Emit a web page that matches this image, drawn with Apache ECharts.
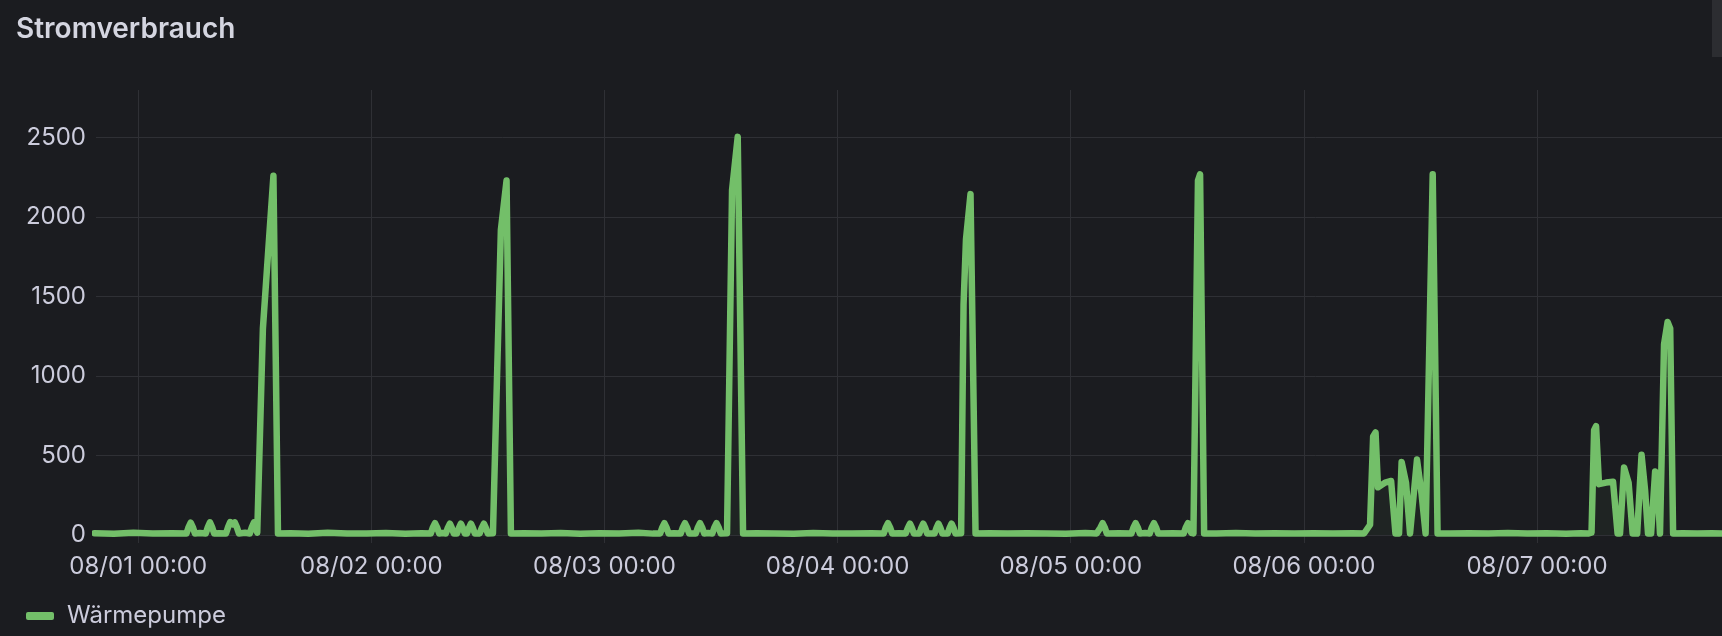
<!DOCTYPE html>
<html>
<head>
<meta charset="utf-8">
<script src="https://cdn.jsdelivr.net/npm/echarts@6/dist/echarts.min.js"></script>
<style>
html,body{margin:0;padding:0;background:#1b1c20;}
#c{width:1722px;height:636px;}
</style>
</head>
<body>
<div id="c"></div>
<script>
const chartTitle = 'Stromverbrauch';
const seriesName = 'Wärmepumpe';

// Sample times (local time); each line matches the same line in `watts`
const times = [
  '2024-07-31 19:30','2024-07-31 21:30','2024-07-31 23:30','2024-08-01 01:30','2024-08-01 03:30',
  '2024-08-01 04:58','2024-08-01 05:11','2024-08-01 05:24','2024-08-01 05:37','2024-08-01 05:50',
  '2024-08-01 06:20',
  '2024-08-01 06:57','2024-08-01 07:10','2024-08-01 07:23','2024-08-01 07:36','2024-08-01 07:49',
  '2024-08-01 08:20',
  '2024-08-01 09:02','2024-08-01 09:15','2024-08-01 09:28','2024-08-01 09:42','2024-08-01 09:56','2024-08-01 10:09','2024-08-01 10:22',
  '2024-08-01 11:00',
  '2024-08-01 11:29','2024-08-01 11:42','2024-08-01 11:55','2024-08-01 12:06','2024-08-01 12:15',
  '2024-08-01 12:26','2024-08-01 12:50','2024-08-01 13:21','2024-08-01 13:55','2024-08-01 14:23',
  '2024-08-01 15:40','2024-08-01 17:30','2024-08-01 19:30','2024-08-01 21:30','2024-08-01 23:30',
  '2024-08-02 01:30','2024-08-02 03:30','2024-08-02 05:10',
  '2024-08-02 06:07','2024-08-02 06:20','2024-08-02 06:33','2024-08-02 06:46','2024-08-02 06:59',
  '2024-08-02 07:20',
  '2024-08-02 07:40','2024-08-02 07:52','2024-08-02 08:05','2024-08-02 08:17','2024-08-02 08:29',
  '2024-08-02 08:49','2024-08-02 09:01','2024-08-02 09:13','2024-08-02 09:25','2024-08-02 09:37',
  '2024-08-02 09:51','2024-08-02 10:03','2024-08-02 10:15','2024-08-02 10:27','2024-08-02 10:39',
  '2024-08-02 11:09','2024-08-02 11:22','2024-08-02 11:35','2024-08-02 11:47','2024-08-02 11:59',
  '2024-08-02 12:31','2024-08-02 13:20','2024-08-02 13:55','2024-08-02 14:22',
  '2024-08-02 15:40','2024-08-02 17:30','2024-08-02 19:30','2024-08-02 21:30','2024-08-02 23:30',
  '2024-08-03 01:30','2024-08-03 03:30','2024-08-03 05:00',
  '2024-08-03 05:44','2024-08-03 05:57','2024-08-03 06:10','2024-08-03 06:23','2024-08-03 06:36',
  '2024-08-03 07:10',
  '2024-08-03 07:51','2024-08-03 08:04','2024-08-03 08:17','2024-08-03 08:30','2024-08-03 08:43',
  '2024-08-03 09:24','2024-08-03 09:37','2024-08-03 09:50','2024-08-03 10:03','2024-08-03 10:16',
  '2024-08-03 10:40',
  '2024-08-03 11:06','2024-08-03 11:19','2024-08-03 11:32','2024-08-03 11:45','2024-08-03 11:58',
  '2024-08-03 12:37','2024-08-03 13:08','2024-08-03 13:43','2024-08-03 14:16',
  '2024-08-03 15:40','2024-08-03 17:30','2024-08-03 19:30','2024-08-03 21:30','2024-08-03 23:30',
  '2024-08-04 01:30','2024-08-04 03:30','2024-08-04 04:30',
  '2024-08-04 04:45','2024-08-04 04:58','2024-08-04 05:11','2024-08-04 05:24','2024-08-04 05:37',
  '2024-08-04 06:20',
  '2024-08-04 07:01','2024-08-04 07:14','2024-08-04 07:27','2024-08-04 07:39','2024-08-04 07:51',
  '2024-08-04 08:25','2024-08-04 08:37','2024-08-04 08:49','2024-08-04 09:01','2024-08-04 09:13',
  '2024-08-04 09:59','2024-08-04 10:11','2024-08-04 10:23','2024-08-04 10:35','2024-08-04 10:47',
  '2024-08-04 11:20','2024-08-04 11:32','2024-08-04 11:44','2024-08-04 11:56','2024-08-04 12:08',
  '2024-08-04 12:43','2024-08-04 12:58','2024-08-04 13:13','2024-08-04 13:41','2024-08-04 14:12',
  '2024-08-04 15:40','2024-08-04 17:30','2024-08-04 19:30','2024-08-04 21:30','2024-08-04 23:30',
  '2024-08-05 01:30','2024-08-05 02:40',
  '2024-08-05 02:51','2024-08-05 03:04','2024-08-05 03:17','2024-08-05 03:30','2024-08-05 03:43',
  '2024-08-05 05:00',
  '2024-08-05 06:15','2024-08-05 06:28','2024-08-05 06:41','2024-08-05 06:54','2024-08-05 07:07',
  '2024-08-05 07:40',
  '2024-08-05 08:08','2024-08-05 08:21','2024-08-05 08:34','2024-08-05 08:47','2024-08-05 09:00',
  '2024-08-05 10:30',
  '2024-08-05 11:38','2024-08-05 11:51','2024-08-05 12:04','2024-08-05 12:14','2024-08-05 12:24',
  '2024-08-05 12:38','2024-08-05 13:06','2024-08-05 13:19','2024-08-05 13:44',
  '2024-08-05 15:00','2024-08-05 17:00','2024-08-05 19:00','2024-08-05 21:00','2024-08-05 23:00',
  '2024-08-06 01:00','2024-08-06 03:00','2024-08-06 05:00',
  '2024-08-06 06:12','2024-08-06 06:49','2024-08-06 07:08','2024-08-06 07:23','2024-08-06 07:38',
  '2024-08-06 08:22','2024-08-06 08:59','2024-08-06 09:26','2024-08-06 09:48','2024-08-06 10:04',
  '2024-08-06 10:31','2024-08-06 10:56','2024-08-06 11:08','2024-08-06 11:39','2024-08-06 12:07',
  '2024-08-06 12:32','2024-08-06 12:44','2024-08-06 13:16','2024-08-06 13:46',
  '2024-08-06 15:00','2024-08-06 17:00','2024-08-06 19:00','2024-08-06 21:00','2024-08-06 23:00',
  '2024-08-07 01:00','2024-08-07 03:00','2024-08-07 04:30',
  '2024-08-07 05:16','2024-08-07 05:37','2024-08-07 05:53','2024-08-07 06:05','2024-08-07 06:23',
  '2024-08-07 07:07','2024-08-07 07:50','2024-08-07 08:18','2024-08-07 08:33','2024-08-07 08:58',
  '2024-08-07 09:26','2024-08-07 09:51','2024-08-07 10:19','2024-08-07 10:46','2024-08-07 11:08',
  '2024-08-07 11:26','2024-08-07 11:45','2024-08-07 12:10','2024-08-07 12:28','2024-08-07 12:40',
  '2024-08-07 12:50','2024-08-07 13:05','2024-08-07 13:27','2024-08-07 13:43','2024-08-07 14:01',
  '2024-08-07 15:00','2024-08-07 16:30','2024-08-07 18:00','2024-08-07 19:30'
];

// Power of the heat pump in W
const watts = [
  12,8,14,9,12,
  10,50,78,50,10,
  13,
  10,50,80,50,10,
  12,
  10,50,82,68,80,50,10,
  14,
  10,50,80,45,15,
  12,1300,1760,2260,10,
  12,8,14,10,9,
  13,8,11,
  10,48,75,48,10,
  13,
  10,45,72,45,10,
  10,45,72,45,10,
  10,45,72,45,10,
  10,45,72,45,10,
  12,1920,2230,10,
  11,9,13,8,12,
  10,14,9,
  10,48,75,48,10,
  12,
  10,48,75,48,10,
  10,48,75,48,10,
  13,
  10,48,75,48,10,
  12,2170,2505,10,
  12,10,8,13,10,
  9,12,10,
  10,48,75,48,10,
  12,
  10,45,72,45,10,
  10,45,72,45,10,
  10,45,72,45,10,
  10,45,72,45,10,
  12,1450,1860,2145,10,
  11,9,12,10,8,
  13,10,
  10,48,75,48,10,
  12,
  10,48,75,48,10,
  13,
  10,48,75,48,10,
  11,
  10,48,75,45,14,
  10,2230,2270,10,
  10,13,9,12,10,
  11,9,12,
  10,65,620,645,300,
  330,340,10,10,460,
  330,10,10,475,260,
  10,10,2270,10,
  10,12,9,13,10,
  11,8,12,
  10,15,660,685,320,
  330,335,10,10,425,
  330,10,10,505,280,
  10,10,400,250,10,
  10,1200,1340,1300,10,
  12,9,11,10
];

const xRange = ['2024-07-31 19:39', '2024-08-07 19:03'];
const yRange = [-50, 2800];

const data = times.map((t, i) => [t, watts[i]]);

const textColor = '#ccccdc';
const gridColor = '#2f3035';
const lineColor = '#73bf69';
const font = 'Inter, "Noto Sans", sans-serif';

const chart = echarts.init(document.getElementById('c'), null, {renderer: 'canvas'});
chart.setOption({
  backgroundColor: '#1b1c20',
  animation: false,
  title: {
    text: chartTitle,
    left: 11,
    top: 10,
    textStyle: {color: '#d4d5e0', fontSize: 28, fontWeight: 600, fontFamily: font, lineHeight: 30}
  },
  legend: {
    show: true,
    left: 21,
    top: 599,
    icon: 'roundRect',
    itemWidth: 28,
    itemHeight: 8,
    data: [seriesName],
    textStyle: {color: textColor, fontSize: 24, fontFamily: font, lineHeight: 24, padding: [0, 0, 0, 8]}
  },
  graphic: [{
    type: 'rect',
    shape: {x: 1712, y: 0, width: 10, height: 57},
    style: {fill: '#2c2d31'}
  }],
  grid: {left: 96, right: 0, top: 90, bottom: 93, containLabel: false},
  xAxis: {
    type: 'time',
    min: xRange[0],
    max: xRange[1],
    minInterval: 24 * 3600 * 1000,
    maxInterval: 24 * 3600 * 1000,
    axisLine: {show: false},
    axisTick: {show: false},
    axisLabel: {
      color: textColor, fontSize: 24, fontFamily: font, margin: 12, lineHeight: 24,
      formatter: '{MM}/{dd} {HH}:{mm}',
      showMinLabel: false, showMaxLabel: false, hideOverlap: false
    },
    splitLine: {show: true, showMinLine: false, showMaxLine: false, lineStyle: {color: gridColor, width: 1}}
  },
  yAxis: {
    type: 'value',
    min: yRange[0],
    max: yRange[1],
    splitNumber: 6,
    axisLine: {show: false},
    axisTick: {show: false},
    axisLabel: {
      color: textColor, fontSize: 24, fontFamily: font, margin: 10,
      showMinLabel: false, showMaxLabel: false,
      formatter: (v) => String(v)
    },
    splitLine: {show: true, showMinLine: false, showMaxLine: false, lineStyle: {color: gridColor, width: 1}}
  },
  series: [{
    name: seriesName,
    type: 'line',
    data: data,
    showSymbol: false,
    smooth: false,
    color: lineColor,
    lineStyle: {color: lineColor, width: 6.5, cap: 'round', join: 'round'},
    itemStyle: {color: lineColor},
    areaStyle: {color: 'rgba(115,191,105,0.07)', origin: 0}
  }]
});
</script>
</body>
</html>
